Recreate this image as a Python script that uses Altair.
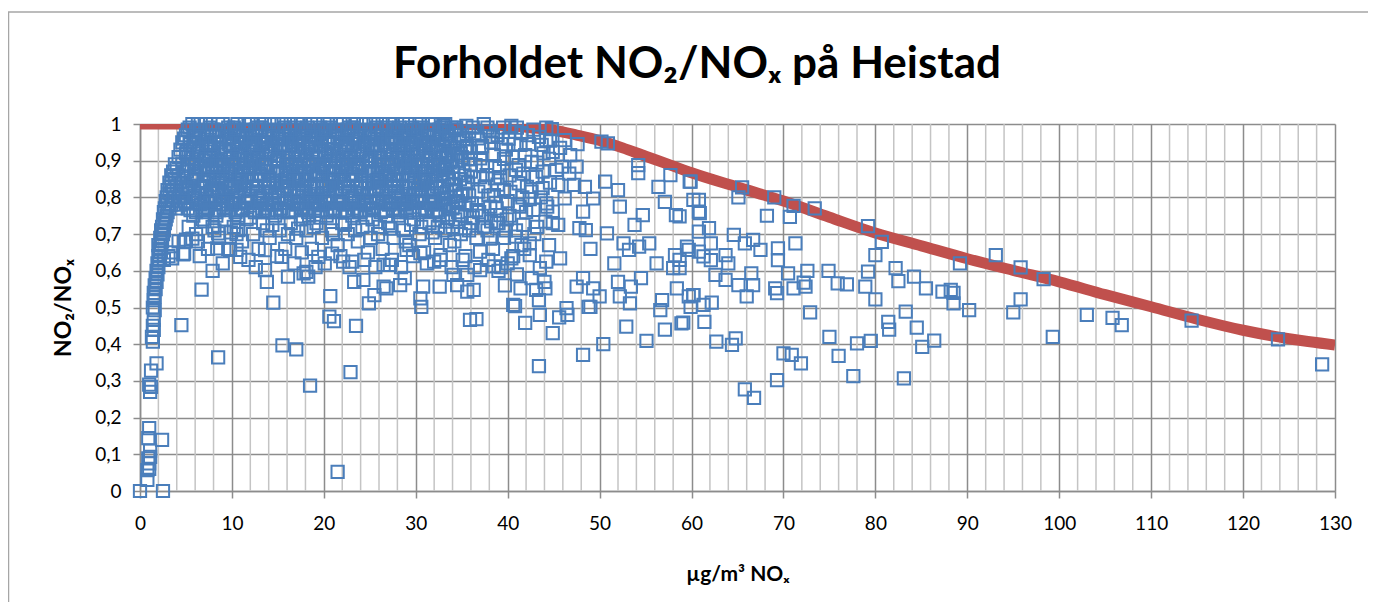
import altair as alt
import pandas as pd

TITLE = "Forholdet NO₂/NOₓ på Heistad"
X_TITLE = "µg/m³ NOₓ"
Y_TITLE = "NO₂/NOₓ"

X_TICKS = list(range(0, 131, 10))
Y_TICKS = [0, 0.1, 0.2, 0.3, 0.4, 0.5, 0.6, 0.7, 0.8, 0.9, 1.0]
MINOR_X = [v for v in range(2, 130, 2) if v % 10 != 0]

# red reference curve
CURVE_X = [0, 5, 10, 15, 20, 25, 30, 35, 40, 42.5, 45, 47.5, 50, 52.5, 55, 57.5, 60,
           65, 70, 75, 80, 85, 90, 95, 100, 105, 110, 115, 120, 125, 130]
CURVE_Y = [1.0, 1.0, 1.0, 1.0, 1.0, 1.0, 1.0, 0.999, 0.995, 0.99, 0.983, 0.97, 0.955,
           0.935, 0.912, 0.89, 0.867, 0.828, 0.79, 0.746, 0.703, 0.668, 0.633, 0.601,
           0.570, 0.535, 0.502, 0.468, 0.438, 0.415, 0.398]

# scatter, low NOx rising branch
RISE = [(1.4,0.50),(1.5,0.52),(1.5,0.54),(1.6,0.53),(1.6,0.56),(1.7,0.55),(1.7,0.58),(1.8,0.57),
        (1.8,0.60),(1.9,0.59),(1.9,0.62),(2.0,0.61),(2.0,0.64),(2.0,0.67),(2.1,0.63),(2.1,0.66),
        (2.2,0.65),(2.2,0.69),(2.3,0.67),(2.3,0.71),(2.4,0.68),(2.4,0.72),(2.5,0.70),(2.5,0.74),
        (2.6,0.71),(2.6,0.76),(2.7,0.73),(2.7,0.77),(2.8,0.74),(2.8,0.79),(2.9,0.75),(2.9,0.80),
        (3.0,0.76),(3.0,0.78),(3.0,0.82),(3.2,0.77),(3.2,0.81),(3.2,0.84),(3.4,0.78),(3.4,0.83),
        (3.4,0.86),(3.6,0.79),(3.6,0.82),(3.6,0.87),(3.8,0.80),(3.8,0.85),(3.8,0.89),(4.0,0.77),
        (4.0,0.83),(4.0,0.88),(4.2,0.80),(4.2,0.86),(4.2,0.91),(4.4,0.78),(4.4,0.84),(4.4,0.93),
        (4.6,0.81),(4.6,0.89),(4.6,0.95),(4.8,0.79),(4.8,0.87),(4.8,0.96),(5.0,0.83),(5.0,0.92),
        (5.0,0.97),(2.6,0.63),(3.1,0.64),(3.6,0.65),(4.2,0.68),(5.0,0.685),(4.7,0.645)]

# scatter, dense block 0.76-1.0
BLOCK = [
 (5.2,0.77),(5.7,0.80),(5.4,0.82),(5.9,0.85),(5.1,0.87),(5.6,0.89),(5.3,0.91),(5.8,0.93),(5.5,0.95),(5.9,0.97),(5.4,0.99),(5.7,1.0),
 (6.1,0.76),(6.6,0.78),(6.3,0.81),(6.8,0.83),(6.0,0.86),(6.5,0.88),(6.9,0.90),(6.2,0.92),(6.7,0.94),(6.4,0.96),(6.1,0.98),(6.6,1.0),(6.3,1.0),
 (7.4,0.77),(7.0,0.79),(7.8,0.80),(7.2,0.84),(7.6,0.85),(7.1,0.88),(7.9,0.89),(7.5,0.91),(7.3,0.94),(7.7,0.95),(7.0,0.97),(7.6,0.99),(7.2,1.0),
 (8.3,0.76),(8.8,0.78),(8.1,0.80),(8.5,0.82),(8.9,0.84),(8.2,0.87),(8.7,0.89),(8.4,0.90),(8.0,0.93),(8.6,0.95),(8.3,0.97),(8.9,0.98),(8.5,1.0),
 (9.1,0.77),(9.6,0.79),(9.3,0.81),(9.8,0.83),(9.0,0.85),(9.5,0.87),(9.2,0.89),(9.9,0.91),(9.4,0.93),(9.7,0.96),(9.2,0.98),(9.6,0.99),(9.0,1.0),
 (10.4,0.76),(10.0,0.78),(10.8,0.80),(10.2,0.83),(10.6,0.85),(10.9,0.87),(10.3,0.89),(10.7,0.92),(10.1,0.94),(10.5,0.95),(10.8,0.97),(10.2,0.99),(10.6,1.0),
 (11.2,0.77),(11.7,0.79),(11.4,0.82),(11.0,0.84),(11.8,0.86),(11.3,0.88),(11.6,0.90),(11.1,0.92),(11.9,0.94),(11.5,0.96),(11.2,0.98),(11.8,1.0),(11.4,1.0),
 (12.5,0.76),(12.1,0.79),(12.8,0.81),(12.3,0.83),(12.7,0.85),(12.0,0.88),(12.4,0.90),(12.9,0.91),(12.2,0.93),(12.6,0.95),(12.3,0.97),(12.8,0.99),(12.1,1.0),
 (13.3,0.77),(13.8,0.78),(13.1,0.80),(13.6,0.83),(13.2,0.86),(13.9,0.87),(13.5,0.89),(13.0,0.91),(13.7,0.93),(13.4,0.95),(13.9,0.97),(13.2,0.99),(13.6,1.0),
 (14.0,0.76),(14.6,0.78),(14.3,0.81),(14.8,0.84),(14.1,0.85),(14.5,0.87),(14.9,0.90),(14.2,0.92),(14.7,0.94),(14.4,0.96),(14.0,0.98),(14.6,1.0),(14.3,1.0),
 (15.4,0.77),(15.1,0.80),(15.7,0.82),(15.3,0.84),(15.9,0.86),(15.0,0.88),(15.6,0.90),(15.2,0.93),(15.8,0.94),(15.5,0.96),(15.1,0.98),(15.7,0.99),(15.4,1.0),
 (16.2,0.76),(16.7,0.79),(16.4,0.81),(16.0,0.83),(16.8,0.85),(16.3,0.87),(16.6,0.89),(16.1,0.91),(16.9,0.93),(16.5,0.95),(16.2,0.97),(16.8,0.99),(16.4,1.0),
 (17.5,0.77),(17.1,0.78),(17.8,0.80),(17.3,0.82),(17.6,0.85),(17.0,0.86),(17.4,0.88),(17.9,0.90),(17.2,0.92),(17.7,0.94),(17.3,0.96),(17.8,0.98),(17.1,1.0),(17.5,1.0),
 (18.3,0.76),(18.8,0.79),(18.1,0.81),(18.6,0.83),(18.2,0.85),(18.9,0.87),(18.5,0.89),(18.0,0.92),(18.7,0.93),(18.4,0.95),(18.9,0.97),(18.2,0.99),(18.6,1.0),
 (19.0,0.77),(19.6,0.78),(19.3,0.81),(19.8,0.83),(19.1,0.86),(19.5,0.87),(19.9,0.89),(19.2,0.91),(19.7,0.94),(19.4,0.96),(19.0,0.97),(19.6,0.99),(19.3,1.0),
 (20.4,0.76),(20.1,0.79),(20.7,0.80),(20.3,0.83),(20.9,0.85),(20.0,0.88),(20.6,0.90),(20.2,0.92),(20.8,0.93),(20.5,0.95),(20.1,0.98),(20.7,0.99),(20.4,1.0),
 (21.2,0.77),(21.7,0.79),(21.4,0.82),(21.0,0.84),(21.8,0.86),(21.3,0.88),(21.6,0.90),(21.1,0.92),(21.9,0.94),(21.5,0.96),(21.2,0.98),(21.8,1.0),(21.4,1.0),
 (22.5,0.76),(22.1,0.78),(22.8,0.81),(22.3,0.83),(22.7,0.85),(22.0,0.87),(22.4,0.89),(22.9,0.91),(22.2,0.93),(22.6,0.95),(22.3,0.97),(22.8,0.99),(22.1,1.0),
 (23.3,0.77),(23.8,0.79),(23.1,0.80),(23.6,0.83),(23.2,0.85),(23.9,0.88),(23.5,0.89),(23.0,0.91),(23.7,0.93),(23.4,0.96),(23.9,0.97),(23.2,0.99),(23.6,1.0),
 (24.0,0.76),(24.6,0.78),(24.3,0.81),(24.8,0.84),(24.1,0.86),(24.5,0.87),(24.9,0.90),(24.2,0.92),(24.7,0.94),(24.4,0.95),(24.0,0.98),(24.6,1.0),(24.3,1.0),
 (25.4,0.77),(25.1,0.79),(25.7,0.82),(25.3,0.84),(25.9,0.85),(25.0,0.88),(25.6,0.90),(25.2,0.93),(25.8,0.94),(25.5,0.96),(25.1,0.98),(25.7,0.99),(25.4,1.0),
 (26.2,0.76),(26.7,0.79),(26.4,0.81),(26.0,0.83),(26.8,0.86),(26.3,0.87),(26.6,0.89),(26.1,0.91),(26.9,0.93),(26.5,0.95),(26.2,0.97),(26.8,0.99),(26.4,1.0),
 (27.5,0.77),(27.1,0.78),(27.8,0.80),(27.3,0.83),(27.6,0.85),(27.0,0.87),(27.4,0.89),(27.9,0.91),(27.2,0.93),(27.7,0.95),(27.3,0.96),(27.8,0.98),(27.1,1.0),(27.5,1.0),
 (28.3,0.76),(28.8,0.78),(28.1,0.81),(28.6,0.83),(28.2,0.85),(28.9,0.88),(28.5,0.90),(28.0,0.92),(28.7,0.94),(28.4,0.96),(28.9,0.97),(28.2,0.99),(28.6,1.0),
 (29.0,0.77),(29.6,0.79),(29.3,0.81),(29.8,0.84),(29.1,0.86),(29.5,0.88),(29.9,0.90),(29.2,0.91),(29.7,0.93),(29.4,0.95),(29.0,0.98),(29.6,0.99),(29.3,1.0),
 (30.4,0.76),(30.1,0.79),(30.7,0.80),(30.3,0.82),(30.9,0.85),(30.0,0.87),(30.6,0.89),(30.2,0.92),(30.8,0.94),(30.5,0.96),(30.1,0.97),(30.7,0.99),(30.4,1.0),
 (31.2,0.77),(31.7,0.78),(31.4,0.82),(31.0,0.84),(31.8,0.86),(31.3,0.88),(31.6,0.90),(31.1,0.92),(31.9,0.94),(31.5,0.95),(31.2,0.98),(31.8,1.0),(31.4,1.0),
 (32.5,0.76),(32.1,0.79),(32.8,0.81),(32.3,0.83),(32.7,0.86),(32.0,0.87),(32.4,0.89),(32.9,0.91),(32.2,0.93),(32.6,0.96),(32.3,0.97),(32.8,0.99),(32.1,1.0),
 (33.3,0.78),(33.8,0.80),(33.1,0.83),(33.6,0.85),(33.2,0.88),(33.9,0.90),(33.5,0.92),(33.0,0.94),(33.7,0.96),(33.4,0.98),(33.9,0.99),(33.2,1.0),
 (34.0,0.77),(34.6,0.79),(34.3,0.82),(34.8,0.85),(34.1,0.87),(34.5,0.90),(34.9,0.92),(34.2,0.95),(34.7,0.97),(34.4,0.99),
 (35.4,0.78),(35.1,0.81),(35.7,0.84),(35.3,0.86),(35.9,0.89),(35.0,0.91),(35.6,0.94),(35.2,0.96),(35.8,0.98)]

# scatter, dense block, interleaved rows
BLOCK2 = [
 (5.5,0.765),(5.0,0.785),(5.8,0.805),(5.2,0.825),(5.6,0.845),(5.9,0.865),(5.3,0.885),(5.7,0.905),(5.1,0.925),(5.4,0.945),(5.8,0.965),(5.2,0.985),
 (6.8,0.765),(6.3,0.785),(6.0,0.805),(6.5,0.825),(6.9,0.845),(6.2,0.865),(6.6,0.885),(6.1,0.905),(6.4,0.925),(6.8,0.945),(6.0,0.965),(6.5,0.985),
 (7.1,0.765),(7.6,0.785),(7.3,0.805),(7.9,0.825),(7.0,0.845),(7.4,0.865),(7.8,0.885),(7.2,0.905),(7.7,0.925),(7.5,0.945),(7.3,0.965),(7.9,0.985),
 (8.6,0.765),(8.2,0.785),(8.9,0.805),(8.4,0.825),(8.0,0.845),(8.7,0.865),(8.3,0.885),(8.8,0.905),(8.5,0.925),(8.1,0.945),(8.6,0.965),(8.2,0.985),
 (9.4,0.765),(9.9,0.785),(9.1,0.805),(9.6,0.825),(9.3,0.845),(9.8,0.865),(9.0,0.885),(9.5,0.905),(9.2,0.925),(9.7,0.945),(9.4,0.965),(9.9,0.985),
 (10.7,0.765),(10.3,0.785),(10.5,0.805),(10.0,0.825),(10.8,0.845),(10.4,0.865),(10.1,0.885),(10.9,0.905),(10.6,0.925),(10.2,0.945),(10.7,0.965),(10.4,0.985),
 (11.0,0.765),(11.5,0.785),(11.8,0.805),(11.3,0.825),(11.6,0.845),(11.1,0.865),(11.9,0.885),(11.4,0.905),(11.7,0.925),(11.0,0.945),(11.5,0.965),(11.2,0.985),
 (12.3,0.765),(12.8,0.785),(12.0,0.805),(12.6,0.825),(12.2,0.845),(12.9,0.865),(12.5,0.885),(12.1,0.905),(12.7,0.925),(12.4,0.945),(12.0,0.965),(12.6,0.985),
 (13.6,0.765),(13.1,0.785),(13.4,0.805),(13.9,0.825),(13.5,0.845),(13.0,0.865),(13.7,0.885),(13.3,0.905),(13.8,0.925),(13.2,0.945),(13.6,0.965),(13.0,0.985),
 (14.9,0.765),(14.4,0.785),(14.7,0.805),(14.1,0.825),(14.5,0.845),(14.8,0.865),(14.2,0.885),(14.6,0.905),(14.0,0.925),(14.3,0.945),(14.9,0.965),(14.5,0.985),
 (15.2,0.765),(15.7,0.785),(15.0,0.805),(15.5,0.825),(15.8,0.845),(15.3,0.865),(15.9,0.885),(15.1,0.905),(15.6,0.925),(15.4,0.945),(15.0,0.965),(15.8,0.985),
 (16.5,0.765),(16.0,0.785),(16.8,0.805),(16.3,0.825),(16.1,0.845),(16.7,0.865),(16.4,0.885),(16.9,0.905),(16.2,0.925),(16.6,0.945),(16.9,0.965),(16.3,0.985),
 (17.8,0.765),(17.4,0.785),(17.1,0.805),(17.7,0.825),(17.3,0.845),(17.9,0.865),(17.0,0.885),(17.5,0.905),(17.2,0.925),(17.8,0.945),(17.4,0.965),(17.6,0.985),
 (18.1,0.765),(18.6,0.785),(18.4,0.805),(18.9,0.825),(18.0,0.845),(18.5,0.865),(18.8,0.885),(18.2,0.905),(18.7,0.925),(18.3,0.945),(18.6,0.965),(18.0,0.985),
 (19.4,0.765),(19.0,0.785),(19.7,0.805),(19.2,0.825),(19.9,0.845),(19.3,0.865),(19.6,0.885),(19.1,0.905),(19.5,0.925),(19.8,0.945),(19.2,0.965),(19.7,0.985),
 (20.7,0.765),(20.2,0.785),(20.5,0.805),(20.0,0.825),(20.6,0.845),(20.9,0.865),(20.3,0.885),(20.8,0.905),(20.1,0.925),(20.4,0.945),(20.7,0.965),(20.2,0.985),
 (21.0,0.765),(21.5,0.785),(21.8,0.805),(21.3,0.825),(21.6,0.845),(21.1,0.865),(21.9,0.885),(21.4,0.905),(21.7,0.925),(21.0,0.945),(21.5,0.965),(21.3,0.985),
 (22.3,0.765),(22.8,0.785),(22.0,0.805),(22.6,0.825),(22.2,0.845),(22.9,0.865),(22.5,0.885),(22.1,0.905),(22.7,0.925),(22.4,0.945),(22.0,0.965),(22.6,0.985),
 (23.6,0.765),(23.1,0.785),(23.4,0.805),(23.9,0.825),(23.5,0.845),(23.0,0.865),(23.7,0.885),(23.3,0.905),(23.8,0.925),(23.2,0.945),(23.6,0.965),(23.0,0.985),
 (24.9,0.765),(24.4,0.785),(24.7,0.805),(24.1,0.825),(24.5,0.845),(24.8,0.865),(24.2,0.885),(24.6,0.905),(24.0,0.925),(24.3,0.945),(24.9,0.965),(24.5,0.985),
 (25.2,0.765),(25.7,0.785),(25.0,0.805),(25.5,0.825),(25.8,0.845),(25.3,0.865),(25.9,0.885),(25.1,0.905),(25.6,0.925),(25.4,0.945),(25.0,0.965),(25.8,0.985),
 (26.5,0.765),(26.0,0.785),(26.8,0.805),(26.3,0.825),(26.1,0.845),(26.7,0.865),(26.4,0.885),(26.9,0.905),(26.2,0.925),(26.6,0.945),(26.9,0.965),(26.3,0.985),
 (27.8,0.765),(27.4,0.785),(27.1,0.805),(27.7,0.825),(27.3,0.845),(27.9,0.865),(27.0,0.885),(27.5,0.905),(27.2,0.925),(27.8,0.945),(27.4,0.965),(27.6,0.985),
 (28.1,0.765),(28.6,0.785),(28.4,0.805),(28.9,0.825),(28.0,0.845),(28.5,0.865),(28.8,0.885),(28.2,0.905),(28.7,0.925),(28.3,0.945),(28.6,0.965),(28.0,0.985),
 (29.4,0.765),(29.0,0.785),(29.7,0.805),(29.2,0.825),(29.9,0.845),(29.3,0.865),(29.6,0.885),(29.1,0.905),(29.5,0.925),(29.8,0.945),(29.2,0.965),(29.7,0.985),
 (30.7,0.765),(30.2,0.785),(30.5,0.805),(30.0,0.825),(30.6,0.845),(30.9,0.865),(30.3,0.885),(30.8,0.905),(30.1,0.925),(30.4,0.945),(30.7,0.965),(30.2,0.985),
 (31.0,0.765),(31.5,0.785),(31.8,0.805),(31.3,0.825),(31.6,0.845),(31.1,0.865),(31.9,0.885),(31.4,0.905),(31.7,0.925),(31.0,0.945),(31.5,0.965),(31.3,0.985),
 (32.3,0.765),(32.8,0.785),(32.0,0.805),(32.6,0.825),(32.2,0.845),(32.9,0.865),(32.5,0.885),(32.1,0.905),(32.7,0.925),(32.4,0.945),(32.0,0.965),(32.6,0.985),
 (33.6,0.775),(33.1,0.795),(33.4,0.815),(33.9,0.835),(33.5,0.855),(33.0,0.875),(33.7,0.895),(33.3,0.915),(33.8,0.935),(33.2,0.955),(33.6,0.975),(33.0,0.995),
 (34.4,0.785),(34.9,0.805),(34.2,0.835),(34.7,0.865),(34.0,0.885),(34.5,0.935),(34.8,0.955),(34.3,0.985)]

# scatter, moderately dense band 0.6-0.76
BELOW = [
 (5.3,0.72),(6.1,0.70),(6.8,0.74),(7.4,0.66),(7.9,0.72),(8.6,0.69),(9.2,0.74),(9.6,0.66),(10.2,0.72),
 (11.1,0.68),(11.6,0.74),(12.3,0.70),(12.9,0.66),(13.4,0.73),(14.1,0.69),(14.7,0.75),(15.2,0.71),
 (15.8,0.66),(16.4,0.73),(17.0,0.69),(17.5,0.74),(18.1,0.71),(18.7,0.66),(19.2,0.73),(19.8,0.69),
 (20.3,0.75),(20.9,0.71),(21.5,0.67),(22.0,0.73),(22.6,0.70),(23.1,0.75),(23.7,0.68),(24.2,0.72),
 (24.8,0.65),(25.3,0.74),(25.9,0.70),(26.4,0.66),(27.0,0.73),(27.6,0.69),(28.1,0.75),(28.7,0.71),
 (29.3,0.67),(29.8,0.74),(30.4,0.70),(30.9,0.65),(31.5,0.73),(32.1,0.69),(32.6,0.75),(33.2,0.71),
 (33.7,0.67),(34.3,0.74),(34.9,0.70),(35.4,0.64),(36.0,0.73),(36.6,0.69),(37.2,0.75),(37.8,0.71),
 (38.4,0.66),(39.0,0.73),(39.6,0.69),(40.2,0.75),(40.9,0.71),(41.5,0.67),
 (6.5,0.64),(9.0,0.62),(11.8,0.63),(12.6,0.61),(14.9,0.64),(16.8,0.62),(17.6,0.65),(19.1,0.61),
 (21.8,0.64),(22.8,0.61),(24.4,0.63),(25.6,0.61),(27.4,0.63),(28.4,0.61),(29.7,0.64),(31.2,0.62),
 (32.7,0.63),(33.9,0.61),(35.1,0.63),(36.4,0.61),(37.9,0.63),(39.3,0.61),(40.6,0.64),
 (5.8,0.75),(7.1,0.76),(8.3,0.75),(10.7,0.75),(13.0,0.76),(15.6,0.76),(18.4,0.75),(21.2,0.76),
 (23.9,0.76),(26.8,0.75),(29.0,0.76),(31.9,0.76),(34.6,0.76),(36.9,0.76),(38.8,0.77),(41.1,0.78),
 (6.3,0.68),(8.1,0.71),(10.5,0.70),(13.8,0.71),(16.1,0.70),(18.9,0.72),(21.0,0.70),(23.4,0.71),
 (25.1,0.69),(26.1,0.72),(28.9,0.68),(30.6,0.72),(32.4,0.72),(34.0,0.72),(35.8,0.71),(37.5,0.72),
 (39.8,0.71),(7.0,0.735),(9.9,0.705),(12.0,0.745),(14.4,0.725),(17.2,0.715),(19.6,0.745),(22.3,0.725),
 (24.6,0.745),(27.2,0.715),(29.5,0.725),(31.8,0.705),(33.5,0.745),(36.2,0.745),(38.2,0.735)]

# scatter, x 26-45
RIGHT = [
 (41.4,0.943),(43.9,0.92),(41.2,0.888),(42.6,0.897),(43.1,0.856),(42.1,0.829),(42.6,0.816),(41.2,0.838),
 (44.3,0.775),(42.8,0.766),(41.7,0.725),(43.2,0.72),(40.8,0.693),(42.4,0.675),(40.4,0.634),(42.4,0.643),
 (43.5,0.607),(41.4,0.552),(43.1,0.548),(40.6,0.507),(38.5,0.915),(38.6,0.852),(38.5,0.806),(38.1,0.775),
 (39.2,0.752),(37.4,0.72),(38.1,0.688),(37.0,0.652),(38.5,0.612),(37.0,0.602),(35.6,0.589),(34.1,0.589),
 (32.0,0.625),(30.5,0.648),(29.0,0.657),(27.2,0.616),(28.8,0.58),(30.8,0.557),(32.6,0.557),(34.5,0.561),
 (36.3,0.548),(30.5,0.525),(35.6,0.543),(28.3,0.561),(26.8,0.552),(43.7,0.943),(40.8,0.979),(42.2,0.97),
 (38.9,0.97),(36.8,0.961),(35.4,0.934),(36.5,0.888),(35.4,0.843),(36.8,0.816),(36.1,0.784),(35.0,0.752),
 (35.4,0.716),(34.2,0.68),(32.7,0.643),(33.4,0.734),(33.0,0.797),(33.4,0.879),(37.7,0.861),(37.0,0.906),
 (34.1,0.915),(36.2,0.99),(37.4,1.0),(38.0,0.98),(39.5,0.99),(40.1,0.96),(41.0,0.99),(42.8,0.985),
 (44.2,0.99),(39.8,0.93),(40.5,0.91),(39.1,0.88),(40.2,0.86),(39.6,0.82),(41.6,0.80),(40.0,0.79),
 (37.2,0.94),(38.2,0.95),(36.0,0.87),(37.5,0.83),(39.9,0.74),(38.8,0.73),(43.8,0.87),(44.6,0.84),
 (42.0,0.76),(43.6,0.80),(44.9,0.73),(42.9,0.70),(44.5,0.67),(41.8,0.66),(40.0,0.62),(39.0,0.60),
 (41.0,0.59),(42.6,0.58),(44.0,0.57),(39.7,0.56),
 (35.5,0.995),(36.4,0.975),(36.9,0.935),(35.7,0.905),(36.3,0.855),(35.8,0.805),(36.6,0.765),(37.8,0.99),
 (38.4,0.965),(37.3,0.885),(37.9,0.805),(38.7,0.785),(38.9,0.835),(39.3,0.945),(39.6,0.905),(39.2,0.855),
 (40.4,0.995),(40.7,0.945),(40.9,0.875),(40.3,0.815),(41.5,0.975),(41.9,0.915),(41.7,0.865),(41.3,0.775),
 (42.3,0.945),(42.7,0.855),(42.4,0.795),(43.4,0.965),(43.2,0.895),(43.8,0.825),(44.6,0.955),(44.5,0.905),
 (45.3,0.875),(45.7,0.935),(46.8,0.915),(47.6,0.945),(46.7,0.865),(36.0,0.925),(37.0,0.855),(38.6,0.885)]

# scatter, x 43-61
MID = [
 (44.8,0.986),(46.2,0.956),(44.2,0.956),(44.9,0.924),(45.9,0.884),(47.5,0.884),(45.5,0.834),(47.2,0.834),
 (48.4,0.829),(50.2,0.952),(50.9,0.947),(54.2,0.888),(54.2,0.866),(50.6,0.843),(52.0,0.82),(57.7,0.861),
 (59.8,0.843),(56.4,0.829),(57.1,0.788),(60.2,0.793),(44.2,0.784),(44.9,0.761),(46.2,0.797),(48.2,0.761),
 (49.3,0.797),(52.2,0.775),(54.7,0.752),(58.3,0.752),(60.8,0.761),(53.8,0.725),(44.1,0.734),(45.5,0.725),
 (47.8,0.716),(48.5,0.711),(50.8,0.702),(52.6,0.675),(53.2,0.657),(54.3,0.666),(55.4,0.675),(49.0,0.66),
 (58.2,0.643),(59.5,0.666),(61.3,0.639),(44.2,0.625),(45.7,0.634),(56.2,0.62),(58.0,0.607),(51.6,0.62),
 (52.0,0.57),(53.4,0.557),(54.5,0.58),(48.2,0.58),(47.5,0.557),(49.3,0.552),(50.0,0.53),(52.2,0.53),
 (44.1,0.552),(56.8,0.52),(58.4,0.552),(60.2,0.534),(61.3,0.507),(46.4,0.498),(49.0,0.502),
 (44.9,0.43),(45.6,0.473),(46.5,0.48),(48.2,0.371),(50.4,0.40),(52.9,0.448),(55.1,0.409),(57.1,0.44),
 (58.9,0.457),(56.6,0.493),(43.5,0.48),(43.4,0.34),(48.8,0.502),(53.3,0.511),
 (30.6,0.502),(35.9,0.466),(36.6,0.468),(40.8,0.504),(41.9,0.458),(43.4,0.52)]

# scatter, x above 58
FAR = [
 (59.9,0.843),(65.5,0.827),(65.1,0.80),(69.0,0.80),(71.1,0.777),(70.7,0.747),(73.4,0.770),(68.2,0.750),
 (60.8,0.793),(60.9,0.757),(58.7,0.748),(61.9,0.716),(60.8,0.707),(64.6,0.698),(65.8,0.675),(66.7,0.684),
 (67.5,0.657),(69.4,0.661),(69.4,0.629),(71.3,0.675),(59.7,0.657),(60.8,0.652),(62.1,0.675),(62.1,0.629),
 (63.7,0.643),(64.0,0.620),(58.7,0.630),(58.7,0.607),(62.6,0.589),(63.7,0.575),(65.1,0.561),(66.5,0.593),
 (66.7,0.561),(66.0,0.530),(69.1,0.552),(69.3,0.539),(70.5,0.593),(71.1,0.552),(72.2,0.568),(72.4,0.557),
 (72.6,0.600),(74.9,0.600),(75.9,0.566),(76.9,0.563),(79.2,0.598),(78.9,0.557),(80.0,0.522),(79.2,0.722),
 (80.7,0.679),(80.0,0.643),(82.2,0.607),(82.5,0.572),(84.2,0.584),(85.5,0.552),(87.3,0.543),(88.2,0.548),
 (88.5,0.540),(88.5,0.511),(89.2,0.620),(90.2,0.493),(93.1,0.643),(95.8,0.609),(95.8,0.522),(95.0,0.487),
 (98.3,0.577),(99.3,0.420),(103.0,0.480),(105.8,0.472),(106.8,0.452),(114.4,0.464),(123.8,0.413),
 (128.6,0.345),(59.7,0.530),(60.2,0.534),(59.9,0.502),(61.4,0.461),(62.2,0.513),(59.1,0.459),(62.7,0.407),
 (64.4,0.398),(64.8,0.416),(65.8,0.277),(66.8,0.254),(69.3,0.302),(70.0,0.375),(70.9,0.371),(71.9,0.348),
 (72.9,0.487),(75.0,0.420),(76.0,0.368),(77.6,0.313),(78.0,0.402),(79.5,0.409),(81.4,0.461),(81.5,0.440),
 (83.3,0.489),(84.5,0.445),(83.1,0.307),(85.1,0.393),(86.4,0.410)]

# scatter, low outliers x < 27
LOW = [
 (0.0,0.0),(2.5,0.0),(0.8,0.03),(0.8,0.057),(0.9,0.089),(1.1,0.093),(0.9,0.144),(1.0,0.171),(2.4,0.139),
 (1.1,0.27),(1.2,0.284),(1.2,0.328),(1.8,0.348),(1.4,0.407),(1.5,0.439),(1.5,0.466),(1.6,0.493),(4.5,0.452),
 (8.5,0.364),(6.7,0.549),(7.9,0.60),(8.4,0.661),(8.5,0.702),(5.7,0.688),(4.8,0.679),(4.8,0.647),(3.5,0.634),
 (10.5,0.657),(9.8,0.657),(10.7,0.711),(10.9,0.638),(13.6,0.602),(13.8,0.57),(16.1,0.584),(14.5,0.513),
 (15.5,0.397),(17.0,0.386),(18.5,0.287),(21.5,0.052),(20.7,0.531),(20.6,0.475),(21.1,0.463),(22.9,0.324),
 (23.5,0.45),(24.9,0.511),(25.5,0.534),(24.3,0.575),(23.3,0.57),(23.1,0.625),(18.1,0.597),(18.3,0.584),
 (17.8,0.593),(26.5,0.616),(26.5,0.557),(19.4,0.638),(13.6,0.656),(15.4,0.638),(20.9,0.647),(20.1,0.62),
 (22.1,0.625),(1.0,0.06),(1.0,0.075),(1.1,0.11),(1.0,0.29),(1.3,0.42),(1.4,0.45)]

points = RISE + BLOCK + BLOCK2 + BELOW + RIGHT + MID + FAR + LOW
scatter_df = pd.DataFrame(points, columns=["nox", "ratio"])
curve_df = pd.DataFrame({"nox": CURVE_X, "ratio": CURVE_Y})
minor_df = pd.DataFrame({"nox": MINOR_X})

FONT = "Lato"
GRID = "#8c8c8c"
label_expr = "replace(format(datum.value, '.1~f'), '.', ',')"

xs = alt.Scale(domain=[0, 130], nice=False, zero=False)
ys = alt.Scale(domain=[0, 1], nice=False)

x_axis = alt.Axis(values=X_TICKS, grid=True, gridColor=GRID, gridWidth=1.5,
                  domainColor=GRID, domainWidth=1.5, tickColor=GRID, tickWidth=1.5,
                  tickSize=7, labelFont=FONT, labelFontSize=19, labelColor="black",
                  labelPadding=16, labelOverlap=False, labelFlush=False,
                  titleFont=FONT, titleFontSize=21, titleFontWeight="bold",
                  titleColor="black", titlePadding=30)
y_axis = alt.Axis(values=Y_TICKS, grid=True, gridColor=GRID, gridWidth=1.5,
                  domainColor=GRID, domainWidth=1.5, tickColor=GRID, tickWidth=1.5,
                  tickSize=7, labelFont=FONT, labelFontSize=19, labelColor="black",
                  labelPadding=12, labelExpr=label_expr, labelOverlap=False,
                  labelFlush=False, titleFont=FONT, titleFontSize=23,
                  titleFontWeight="bold", titleColor="black", titlePadding=19)

X_ENC = alt.X("nox:Q", scale=xs, axis=x_axis, title=X_TITLE)
Y_ENC = alt.Y("ratio:Q", scale=ys, axis=y_axis, title=Y_TITLE)

minor = alt.Chart(minor_df).mark_rule(color="#c4c4c4", strokeWidth=1.5).encode(x=X_ENC)

curve = alt.Chart(curve_df).mark_line(color="#C0504D", strokeWidth=11, clip=True,
                                      interpolate="monotone").encode(x=X_ENC, y=Y_ENC)

scatter = alt.Chart(scatter_df).mark_point(shape="square", filled=False, size=150,
                                           strokeWidth=2, color="#4A7EBB", opacity=1).encode(
    x=X_ENC, y=Y_ENC)

one = pd.DataFrame({"a": [0]})
title = alt.Chart(one).mark_text(font=FONT, fontSize=44, fontWeight="bold", color="black",
                                 align="center", baseline="alphabetic").encode(
    x=alt.value(557), y=alt.value(-46), text=alt.value(TITLE))

border = alt.Chart(one).mark_rect(fill="transparent", stroke="#a6a6a6", strokeWidth=1.5).encode(
    x=alt.value(-131.5), x2=alt.value(1300), y=alt.value(-112), y2=alt.value(700))

chart = alt.layer(minor, curve, scatter, title, border).properties(
    width=1195, height=367,
    padding={"left": 132, "top": 116, "right": 33, "bottom": 111},
    autosize=alt.AutoSizeParams(type="none"),
    background="white",
).configure_view(stroke=None)

chart.save("out.html", embed_options={"renderer": "svg", "actions": False})
